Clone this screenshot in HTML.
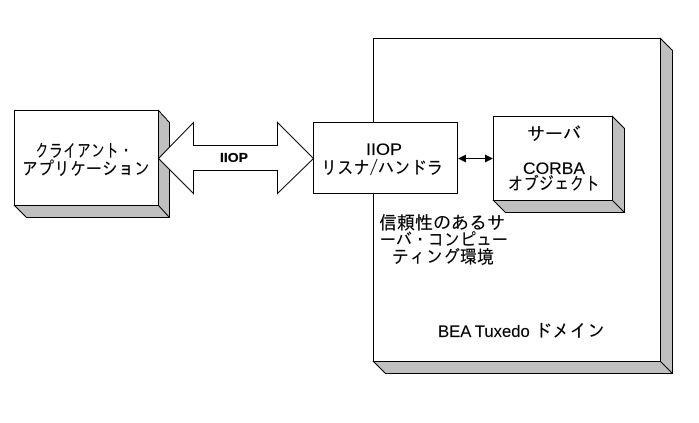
<!DOCTYPE html>
<html><head><meta charset="utf-8"><style>
html,body{margin:0;padding:0;background:#fff}
svg{display:block}
text{font-family:"Liberation Sans","IPAGothic","Noto Sans CJK JP",sans-serif;font-size:17px;fill:#000;stroke:#000;stroke-width:.2}
.j{font-family:"IPAGothic","Noto Sans CJK JP",sans-serif;font-size:18px}
</style></head><body>
<svg width="699" height="423" viewBox="0 0 699 423" xmlns="http://www.w3.org/2000/svg">
<g stroke="#000" stroke-width="1" shape-rendering="crispEdges">
<polygon points="660.5,38.5 672.5,50.5 672.5,373.5 385.5,373.5 373.5,361.5 660.5,361.5" fill="#c0c0c0"/>
<rect x="373.5" y="38.5" width="287" height="323" fill="#fff"/>
<polygon points="158.5,110.5 169.5,122.5 169.5,217.5 26.5,217.5 14.5,205.5 158.5,205.5" fill="#c0c0c0"/>
<rect x="14.5" y="110.5" width="144" height="95" fill="#fff"/>
<rect x="313.5" y="122.5" width="144" height="71" fill="#fff"/>
<polygon points="612.5,116.5 624.5,128.5 624.5,212.5 505.5,212.5 493.5,200.5 612.5,200.5" fill="#c0c0c0"/>
<rect x="493.5" y="116.5" width="119" height="84" fill="#fff"/>
</g>
<g stroke="#000" stroke-width="1" fill="none">
<line x1="660.5" y1="361.5" x2="672.5" y2="373.5"/>
<line x1="158.5" y1="205.5" x2="169.5" y2="217.5"/>
<line x1="612.5" y1="200.5" x2="624.5" y2="212.5"/>
</g>
<polygon points="158.5,158.5 193.5,122.5 193.5,145.5 277.5,145.5 277.5,122.5 313.5,158.5 277.5,193.5 277.5,170.5 193.5,170.5 193.5,193.5" fill="#fff" stroke="#000" stroke-width="1"/>
<line x1="460" y1="158.5" x2="491" y2="158.5" stroke="#000" stroke-width="1" shape-rendering="crispEdges"/>
<polygon points="458,158.5 466,154.5 466,162.5" fill="#000"/>
<polygon points="493,158.5 485,154.5 485,162.5" fill="#000"/>
<text class="j" x="35" y="157" textLength="98" lengthAdjust="spacingAndGlyphs">クライアント・</text>
<text class="j" x="22" y="175" textLength="128" lengthAdjust="spacingAndGlyphs">アプリケーション</text>
<text x="220" y="162" textLength="28" lengthAdjust="spacingAndGlyphs" style="font-size:13px;font-weight:bold">IIOP</text>
<text x="366" y="155" textLength="36" lengthAdjust="spacingAndGlyphs">IIOP</text>
<text class="j" x="321" y="174" textLength="122" lengthAdjust="spacingAndGlyphs">リスナ/ハンドラ</text>
<text class="j" x="527" y="140" textLength="54" lengthAdjust="spacingAndGlyphs">サーバ</text>
<text x="523" y="174" textLength="62" lengthAdjust="spacingAndGlyphs">CORBA</text>
<text class="j" x="508" y="190" textLength="92" lengthAdjust="spacingAndGlyphs">オブジェクト</text>
<text class="j" x="379" y="229" textLength="126" lengthAdjust="spacingAndGlyphs">信頼性のあるサ</text>
<text class="j" x="380" y="246" textLength="128" lengthAdjust="spacingAndGlyphs">ーバ・コンピュー</text>
<text class="j" x="392" y="263" textLength="102" lengthAdjust="spacingAndGlyphs">ティング環境</text>
<text x="438" y="337" textLength="167" lengthAdjust="spacingAndGlyphs">BEA Tuxedo <tspan class="j">ドメイン</tspan></text>
</svg>
</body></html>
